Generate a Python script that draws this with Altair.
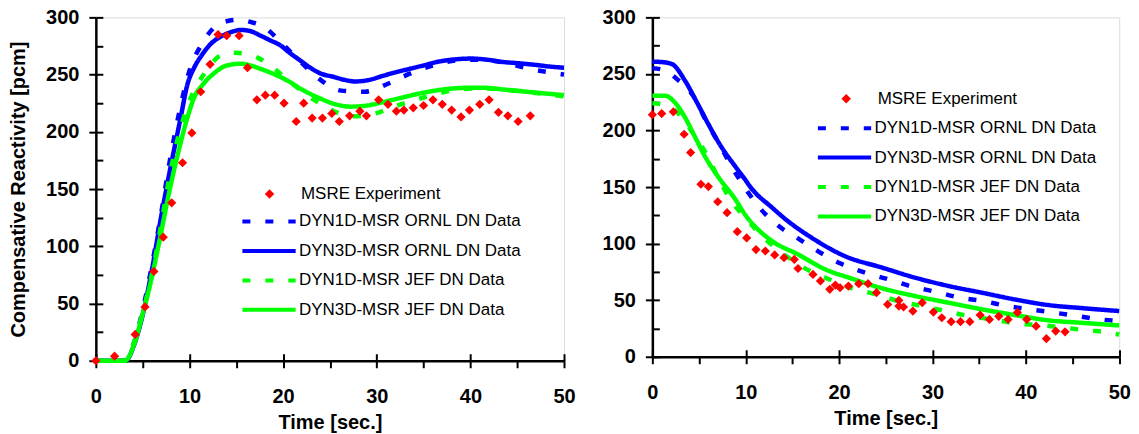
import altair as alt
import pandas as pd

# ---------------- data ----------------
EXP_NAME = "MSRE Experiment"
MODEL_SERIES = ["DYN1D-MSR ORNL DN Data", "DYN3D-MSR ORNL DN Data",
                "DYN1D-MSR JEF DN Data", "DYN3D-MSR JEF DN Data"]
MODEL_COLORS = ["#0000FF", "#0000FF", "#00FF00", "#00FF00"]
MODEL_DASHES = [[8, 15], [1, 0], [8, 15], [1, 0]]
EXP_COLOR = "#FF0000"

# Left panel: experiment
L_exp_t = [0, 2.0, 4.2, 5.25, 6.2, 7.2, 8.1, 9.26, 10.25, 11.2, 12.2, 13.05, 13.97, 15.3, 16.2,
           17.2, 18.1, 19.1, 20.1, 21.4, 22.2, 23.1, 24.2, 25.2, 26.0, 27.1, 28.2, 28.9, 30.2,
           31.2, 32.1, 32.9, 33.9, 35.0, 36.0, 37.0, 38.0, 39.0, 39.9, 41.0, 42.0, 43.0, 44.0,
           45.1, 46.4]
L_exp_v = [0, 4, 23, 47, 78, 108, 138, 173, 199, 235, 259, 285, 284, 284, 256,
           228, 232, 232, 225, 209, 225, 212, 212, 216, 209, 214, 218, 214, 228,
           224, 218, 219, 221, 223, 228, 224, 219, 213, 219, 224, 228, 217, 214,
           209, 214]

# Left panel: models
L_1d_ornl_t = [0, 3.0, 4, 5, 6, 7, 7.8, 8.8, 9.4, 10.1, 11.2, 12.9, 14.2, 15.3, 16.5, 17.9, 19.9,
               22, 23.9, 26.2, 28.7, 31.2, 33.6, 36, 38.7, 41.3, 43.8, 46.3, 48.7, 50]
L_1d_ornl_v = [0, 0, 14, 44, 84, 130, 170, 213, 235, 256, 275, 293, 297, 298, 296, 292, 277,
               260, 246, 236, 235, 242, 251, 258, 262.5, 263, 260, 255, 251.6, 250]

L_3d_ornl_t = [0, 3.2, 4, 5, 6, 7, 8, 9, 9.8, 10.5, 11.4, 12.3, 13.3, 14.4, 15.5, 16.5, 17.6,
               18.6, 19.7, 20.7, 21.8, 22.9, 24.0, 25.4, 26.5, 27.7, 29, 30.7, 32, 33.5, 35,
               36.4, 38, 40.1, 41.8, 43.5, 45, 46.7, 48.5, 50]
L_3d_ornl_v = [0, 0, 12, 40, 80, 127, 170, 210, 242, 256, 268, 277, 283, 287, 289, 288, 284,
               280, 275.6, 269, 262.5, 256, 251, 248, 245.5, 244, 245, 249, 252, 255, 258,
               261, 263, 264, 263, 261, 260, 258.7, 257, 256]

L_1d_jef_t = [0, 3.1, 4, 5, 6, 7, 7.8, 8.7, 9.4, 10.3, 11.6, 12.5, 13.5, 14.8, 16, 17.2, 18.4,
              20.4, 22.4, 24.6, 26, 27.3, 28.5, 29.8, 32.2, 35, 38, 41, 44, 47, 50]
L_1d_jef_v = [0, 0, 14, 42, 76, 120, 158, 192.5, 213, 233, 251, 261, 267.5, 269, 268, 265, 259.5,
              246, 233, 221.6, 216, 213.5, 214, 216, 223, 230, 236, 238, 236.5, 234, 231]

L_3d_jef_t = [0, 3.1, 4.1, 5.0, 5.9, 6.8, 7.8, 8.8, 9.8, 10.5, 11.5, 12.6, 14, 15.5, 16.5, 17.6,
              19, 20.4, 22, 24, 25.4, 27.2, 29, 30.7, 32.5, 34.3, 37.1, 39.9, 41.5, 43.5,
              46.7, 50]
L_3d_jef_v = [0, 0, 14.6, 41, 70, 105, 146, 182, 213, 230, 242, 251, 258, 259.5, 258, 255,
              250.5, 245, 237, 229, 224.5, 222, 223, 226, 229.5, 233, 237, 238.5, 238.5, 237,
              234.5, 232]

# Right panel: experiment
R_exp_t = [0, 1.0, 2.25, 3.4, 4.1, 5.2, 6.0, 7.0, 8.0, 9.1, 10.1, 11.1, 12.1, 13.1, 14.1, 15.2,
           15.6, 17.2, 18.0, 19.0, 19.6, 20.1, 21.0, 22.1, 23.1, 24.0, 25.2, 26.4, 26.4, 26.9,
           27.9, 28.9, 30.1, 31.0, 32.0, 33.0, 34.0, 35.1, 36.1, 37.1, 38.1, 39.1, 40.1, 41.1,
           42.2, 43.2, 44.2]
R_exp_v = [214, 215, 216.5, 196.7, 180.5, 152.5, 150.4, 137, 127.4, 110.6, 105, 94.7, 93.5, 90,
           87.6, 86, 78, 72.8, 67, 59.6, 63.4, 61, 62.5, 64.6, 64.6, 56.6, 46.3, 49.8, 44.8, 44,
           40.4, 47.8, 39.5, 34.5, 31, 31, 31, 36.9, 33, 35.7, 33, 39.2, 33, 27, 16, 22.7, 22]

# Right panel: models
R_1d_ornl_t = [0, 1, 2.7, 4.6, 5.8, 7.1, 8.5, 9.9, 11.4, 13.5, 15.6, 17.8, 20.1, 22.7, 25.3,
               27.8, 30.3, 32.9, 35.4, 37.9, 40.4, 43, 45.5, 48, 50]
R_1d_ornl_v = [255, 254, 245, 227.7, 207.7, 189, 168, 149.6, 132.5, 115.7, 104.7, 93, 82.6, 74.5,
               68.4, 62, 57.5, 52.2, 49.3, 45, 41.9, 39, 36, 33, 31.5]

R_3d_ornl_t = [0, 1, 2.1, 3.5, 4.7, 6.0, 7.2, 8.9, 9.9, 10.6, 12.8, 14.5, 17.1, 20.6, 24.6,
               28.1, 31.7, 35.3, 38.8, 42.4, 46, 50]
R_3d_ornl_v = [260.8, 260.5, 258.7, 244, 226, 205.6, 188, 168, 157, 149, 132, 120, 105, 89,
               78.8, 70, 62.6, 56.6, 50.7, 45.7, 43, 40.4]

R_1d_jef_t = [0, 1, 2.8, 4.4, 5.8, 7.0, 8.4, 10, 12, 14.1, 16.2, 18.7, 21.3, 23.8, 26.3, 28.9,
              31.4, 33.9, 36.4, 39, 41.5, 44, 46.6, 49.2, 50]
R_1d_jef_v = [224, 223, 215, 197, 179, 159, 138.5, 122.4, 104.7, 90.5, 78.8, 69.3, 60.7, 55.5,
              49.3, 44.8, 40.4, 36, 33, 29.5, 28, 25.7, 23.3, 21.2, 19.5]

R_3d_jef_t = [0, 1.4, 2.4, 3.5, 4.6, 5.6, 7.1, 8.9, 9.9, 12.8, 15.6, 18.5, 21.2, 24.4, 28.1,
              31.7, 35.3, 38.8, 42.4, 46, 50]
R_3d_jef_v = [230.7, 230.7, 224.8, 211.5, 193.8, 177.6, 158.4, 139, 126, 102.4, 90.5, 77.3,
              69.5, 61, 53.7, 47.8, 41.9, 36.9, 32.2, 30, 27.7]

X_MAJOR = list(range(0, 51, 10))
X_ALL = list(range(0, 51, 5))
Y_MAJOR = list(range(0, 301, 50))
Y_ALL = list(range(0, 301, 25))

FONT = "Liberation Sans"
LINE_SYMBOL = "M-2.32,0L2.32,0"


def common_axis(**kw):
    base = dict(grid=False, labelOverlap=False, labelFlush=False,
                tickSize=7, tickWidth=2, tickColor="black",
                domainColor="black", domainWidth=2.5,
                labelFont=FONT, labelFontSize=20, labelFontWeight="bold", labelColor="black",
                titleFont=FONT, titleFontSize=20, titleFontWeight="bold", titleColor="black")
    base.update(kw)
    return alt.Axis(**base)


def inner_axis(orient, values):
    return alt.Axis(orient=orient, values=values, offset=-7, tickSize=7, tickWidth=2,
                    tickColor="black", labels=False, domain=False, grid=False, title=None)


def panel(exp_t, exp_v, models, ytitle, line_leg_xy, exp_leg_xy, width, height):
    line_legend = alt.Legend(
        title=None, orient="none", legendX=line_leg_xy[0], legendY=line_leg_xy[1],
        symbolType=LINE_SYMBOL, symbolSize=529, symbolStrokeWidth=4,
        labelOffset=16.5, rowPadding=7.5, padding=0,
        labelFont=FONT, labelFontSize=17, labelColor="black", labelLimit=500)
    exp_legend = alt.Legend(
        title=None, orient="none", legendX=exp_leg_xy[0], legendY=exp_leg_xy[1],
        symbolType="diamond", symbolSize=90, symbolStrokeWidth=0,
        labelOffset=23, padding=0,
        labelFont=FONT, labelFontSize=17, labelColor="black", labelLimit=500)

    xsc = alt.Scale(domain=[0, 50], nice=False)
    ysc = alt.Scale(domain=[0, 300], nice=False)
    x = alt.X("t:Q", scale=xsc, axis=common_axis(
        orient="bottom", values=X_ALL, labelExpr="datum.value % 10 === 0 ? datum.label : ''",
        title="Time [sec.]", labelPadding=19, titlePadding=5.5))
    if ytitle:
        yax = common_axis(orient="left", values=Y_MAJOR, title=ytitle, labelPadding=10,
                          titlePadding=17)
    else:
        yax = common_axis(orient="left", values=Y_MAJOR, title=None, labelPadding=10)
    y = alt.Y("v:Q", scale=ysc, axis=yax)

    stroke = alt.Stroke("series:N", scale=alt.Scale(domain=MODEL_SERIES, range=MODEL_COLORS),
                        legend=line_legend)
    dash = alt.StrokeDash("series:N", scale=alt.Scale(domain=MODEL_SERIES, range=MODEL_DASHES),
                          legend=line_legend)

    layers = []
    for name, t, v in models:
        df = pd.DataFrame({"t": t, "v": v, "series": name})
        layers.append(alt.Chart(df).mark_line(interpolate="monotone", strokeWidth=4.5)
                      .encode(x=x, y=y, stroke=stroke, strokeDash=dash))
    dfe = pd.DataFrame({"t": exp_t, "v": exp_v, "kind": EXP_NAME})
    layers.append(alt.Chart(dfe).mark_point(shape="diamond", filled=True, size=85, opacity=1,
                                            strokeWidth=0)
                  .encode(x=x, y=y,
                          fill=alt.Fill("kind:N", scale=alt.Scale(domain=[EXP_NAME], range=[EXP_COLOR]),
                                        legend=exp_legend)))
    data_layer = alt.layer(*layers)

    ticks_layer = alt.Chart(dfe).mark_point(opacity=0).encode(
        x=alt.X("t:Q", scale=xsc, axis=inner_axis("bottom", X_MAJOR)),
        y=alt.Y("v:Q", scale=ysc, axis=inner_axis("left", Y_ALL)))

    return alt.layer(data_layer, ticks_layer).resolve_scale(
        x="independent", y="independent").properties(width=width, height=height)


left = panel(L_exp_t, L_exp_v,
             [(MODEL_SERIES[0], L_1d_ornl_t, L_1d_ornl_v),
              (MODEL_SERIES[1], L_3d_ornl_t, L_3d_ornl_v),
              (MODEL_SERIES[2], L_1d_jef_t, L_1d_jef_v),
              (MODEL_SERIES[3], L_3d_jef_t, L_3d_jef_v)],
             "Compensative Reactivity [pcm]", (160, 191), (165.5, 168.5), 469, 344)

right = panel(R_exp_t, R_exp_v,
              [(MODEL_SERIES[0], R_1d_ornl_t, R_1d_ornl_v),
               (MODEL_SERIES[1], R_3d_ornl_t, R_3d_ornl_v),
               (MODEL_SERIES[2], R_1d_jef_t, R_1d_jef_v),
               (MODEL_SERIES[3], R_3d_jef_t, R_3d_jef_v)],
              None, (179, 97.5), (185.7, 73), 467.7, 340)

chart = alt.hconcat(left, right, spacing=25.5).resolve_scale(
    stroke="independent", strokeDash="independent", fill="independent"
).resolve_legend(
    stroke="independent", strokeDash="independent", fill="independent"
).properties(
    padding={"left": 0, "top": -2, "right": 0, "bottom": 0}
).configure_view(stroke="#333333", strokeWidth=1.5).configure(background="white")

chart.save("out.html", embed_options={"renderer": "svg", "actions": False})
